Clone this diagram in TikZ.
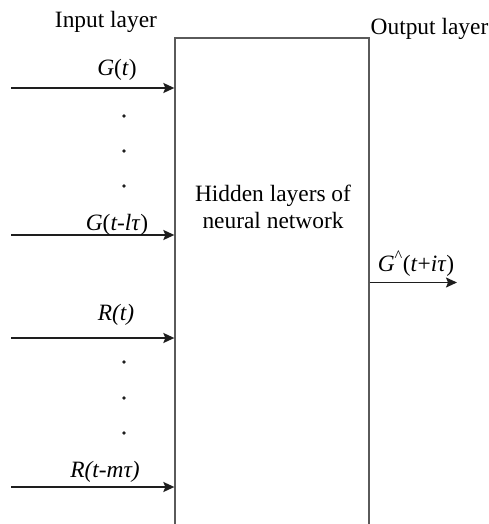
\documentclass[tikz,border=0pt]{standalone}
\usepackage{fontspec}
\setmainfont{Liberation Serif}
\usetikzlibrary{arrows.meta}
\definecolor{boxcolor}{RGB}{90,90,90}
\definecolor{linecolor}{RGB}{30,30,30}

\begin{document}
\begin{tikzpicture}[yscale=-1
        ,lbl/.style={anchor=base,inner sep=0pt,font=\fontsize{23.4}{27}\selectfont}
        ,inarrow/.style={draw=linecolor,line width=1.6pt,-{Stealth[length=11pt,width=10pt,inset=2pt]}}
        ,hbox/.style={draw=boxcolor,line width=1.3pt,minimum width=194pt,minimum height=492pt,inner sep=0pt}
    ]
    \useasboundingbox (0pt,0pt) rectangle (489pt,524pt);
    \clip (0pt,0pt) rectangle (489pt,524pt);
    % hidden layers box, open at the bottom edge
    \node[hbox] (hidden) at (272pt,284pt) {};
    \node[lbl] (hiddentxt1) at (273pt,201pt) {Hidden layers of};
    \node[lbl] (hiddentxt2) at (273pt,228pt) {neural network};
    \node[lbl] (inlayer) at (106pt,28pt) {Input layer};
    \node[lbl] (outlayer) at (429.5pt,35pt) {Output layer};
    % inputs
    \coordinate (g0) at (11pt,88pt);
    \coordinate (g1) at (11pt,235pt);
    \coordinate (r0) at (11pt,338pt);
    \coordinate (r1) at (11pt,487pt);
    \coordinate (gout) at (457pt,282.5pt);
    \draw[inarrow] (g0) -- (g0 -| hidden.west);
    \draw[inarrow] (g1) -- (g1 -| hidden.west);
    \draw[inarrow] (r0) -- (r0 -| hidden.west);
    \draw[inarrow] (r1) -- (r1 -| hidden.west);
    \draw[inarrow] (hidden.east |- gout) -- (gout);
    \node[lbl] (g0lbl) at (117pt,76pt) {\textit{G}(\textit{t})};
    \node[lbl] (g1lbl) at (117pt,230pt) {\textit{G}(\textit{t-lτ})};
    \node[lbl] (r0lbl) at (116pt,320pt) {\textit{R(t)}};
    \node[lbl] (r1lbl) at (105pt,477pt) {\textit{R(t-mτ)}};
    \node[lbl] (goutlbl) at (416pt,271pt) {\textit{G}\textsuperscript{\textasciicircum}(\textit{t}+\textit{iτ})};
    % dots
    \foreach \y in {116,151,186,362,398,433}
        \fill[linecolor] (124pt,\y pt) circle (1.8pt);
\end{tikzpicture}
\end{document}
